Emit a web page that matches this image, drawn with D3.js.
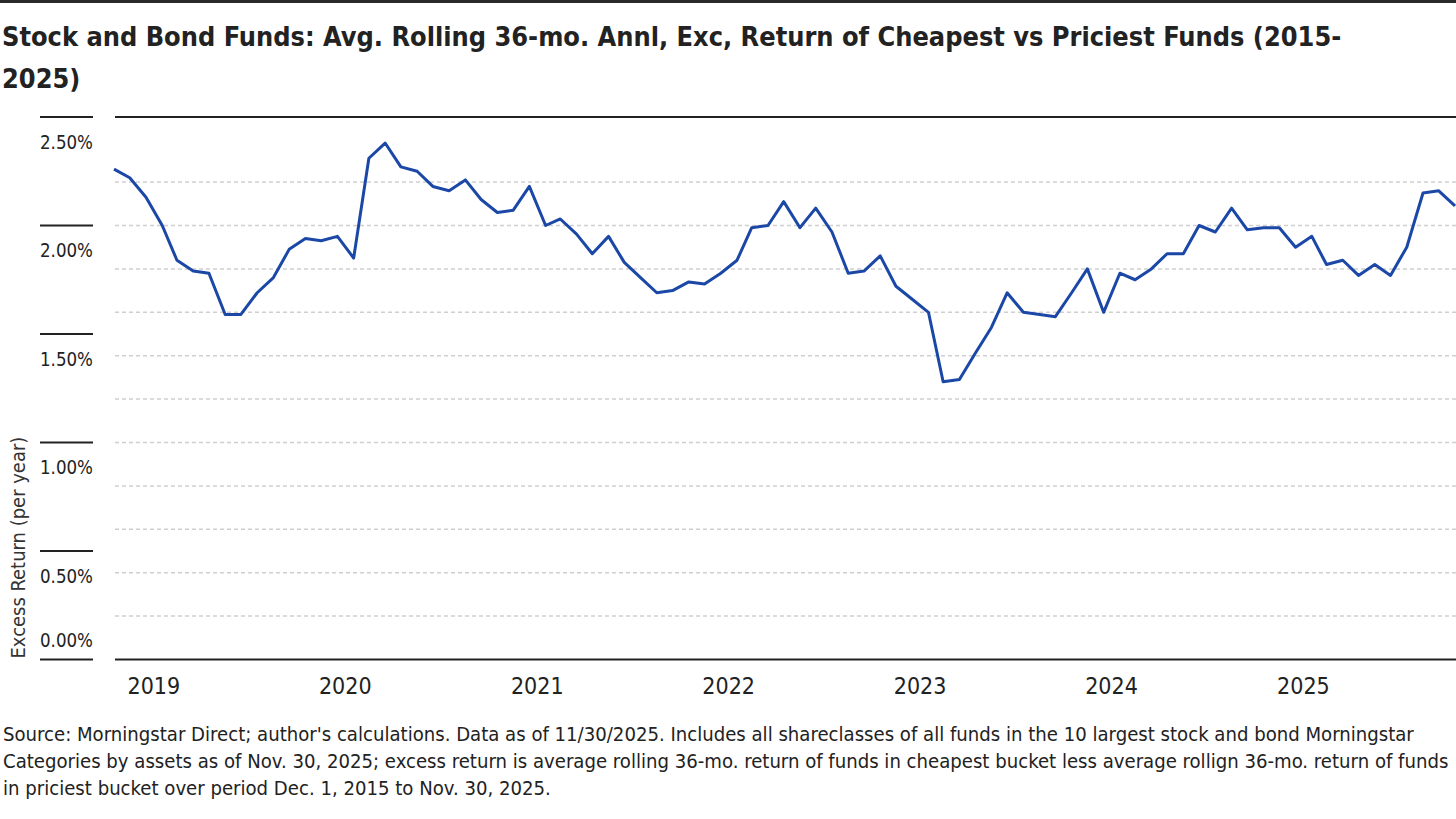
<!DOCTYPE html>
<html>
<head>
<meta charset="utf-8">
<script src="https://cdn.jsdelivr.net/npm/d3@7"></script>
<style>
  html, body { margin: 0; padding: 0; background: #fff; }
  svg { display: block; }
</style>
</head>
<body>
<div id="chart"></div>
<script>
// first rolling 36-mo. window ends Nov 2018, last ends Nov 2025
const firstMonth = '2018-11';
const lastMonth = '2025-11';

// avg. rolling 36-mo. annualised excess return (%), cheapest minus priciest, one value per month
const excessReturn = [
  2.26, 2.22,                                                             // 2018 Nov-Dec
  2.13, 2.00, 1.84, 1.79, 1.78, 1.59, 1.59, 1.69, 1.76, 1.89, 1.94, 1.93, // 2019
  1.95, 1.85, 2.31, 2.38, 2.27, 2.25, 2.18, 2.16, 2.21, 2.12, 2.06, 2.07, // 2020
  2.18, 2.00, 2.03, 1.96, 1.87, 1.95, 1.83, 1.76, 1.69, 1.70, 1.74, 1.73, // 2021
  1.78, 1.84, 1.99, 2.00, 2.11, 1.99, 2.08, 1.97, 1.78, 1.79, 1.86, 1.72, // 2022
  1.66, 1.60, 1.28, 1.29, 1.41, 1.53, 1.69, 1.60, 1.59, 1.58, 1.69, 1.80, // 2023
  1.60, 1.78, 1.75, 1.80, 1.87, 1.87, 2.00, 1.97, 2.08, 1.98, 1.99, 1.99, // 2024
  1.90, 1.95, 1.82, 1.84, 1.77, 1.82, 1.77, 1.90, 2.15, 2.16, 2.09        // 2025 Jan-Nov
];

const yearLabels = ['2019', '2020', '2021', '2022', '2023', '2024', '2025'];
const yTickValues = [0, 0.5, 1.0, 1.5, 2.0, 2.5];
const yGridValues = [0.2, 0.4, 0.6, 0.8, 1.0, 1.2, 1.4, 1.6, 1.8, 2.0, 2.2];

const titleLines = [
  'Stock and Bond Funds: Avg. Rolling 36-mo. Annl, Exc, Return of Cheapest vs Priciest Funds (2015-',
  '2025)'
];
const yAxisTitle = 'Excess Return (per year)';
const sourceLines = [
  "Source: Morningstar Direct; author's calculations. Data as of 11/30/2025. Includes all shareclasses of all funds in the 10 largest stock and bond Morningstar",
  'Categories by assets as of Nov. 30, 2025; excess return is average rolling 36-mo. return of funds in cheapest bucket less average rollign 36-mo. return of funds',
  'in priciest bucket over period Dec. 1, 2015 to Nov. 30, 2025.'
];

const width = 1456;
const height = 819;
const narrow = '"Liberation Sans Narrow", "Arial Narrow", "DejaVu Sans Condensed", sans-serif';
const ink = '#222';
const lineBlue = '#1b48a6';

const parseMonth = d3.timeParse('%Y-%m');
const months = d3.timeMonth.range(parseMonth(firstMonth), d3.timeMonth.offset(parseMonth(lastMonth), 1));
const data = months.map((m, i) => ({ date: m, value: excessReturn[i] }));

const svg = d3.select('#chart')
  .append('svg')
  .attr('width', width)
  .attr('height', height);

const x = d3.scaleTime()
  .domain([months[0], months[months.length - 1]])
  .range([114, 1455]);

const y = d3.scaleLinear()
  .domain([0, 2.5])
  .range([659.5, 117]);

const plotLeft = 115;
const plotRight = width;

// font size that makes a text element come out at a given width
function sizeFor(sel, target) {
  const fs = +sel.attr('font-size');
  return fs * target / sel.node().getComputedTextLength();
}

// top rule
svg.append('rect')
  .attr('x', 0).attr('y', 0)
  .attr('width', width).attr('height', 3)
  .attr('fill', '#2a2a2a');

// title
const title = svg.append('g')
  .attr('font-family', narrow)
  .attr('font-weight', 'bold')
  .attr('fill', ink);

const t = titleLines.map((s, i) =>
  title.append('text').attr('x', 2).attr('y', 45.5 + i * 42).attr('font-size', 34).text(s));
const titleSize = sizeFor(t[0], 1340);
t.forEach(el => el.attr('font-size', titleSize));

// dashed gridlines
svg.append('g')
  .selectAll('line')
  .data(yGridValues)
  .join('line')
  .attr('x1', plotLeft)
  .attr('x2', plotRight)
  .attr('y1', d => y(d))
  .attr('y2', d => y(d))
  .attr('stroke', '#cfcfcf')
  .attr('stroke-width', 1.5)
  .attr('stroke-dasharray', '4,3');

// top and bottom frame lines of the plot
svg.append('g')
  .selectAll('line')
  .data(y.domain())
  .join('line')
  .attr('x1', plotLeft)
  .attr('x2', plotRight)
  .attr('y1', d => y(d))
  .attr('y2', d => y(d))
  .attr('stroke', ink)
  .attr('stroke-width', 2);

// y ticks: short rule with label below it (label above for zero)
const yTicks = svg.append('g')
  .attr('fill', ink);

yTicks.selectAll('line')
  .data(yTickValues)
  .join('line')
  .attr('x1', 40)
  .attr('x2', 93)
  .attr('y1', d => y(d))
  .attr('y2', d => y(d))
  .attr('stroke', ink)
  .attr('stroke-width', 2);

yTicks.selectAll('text')
  .data(yTickValues)
  .join('text')
  .attr('x', 40)
  .attr('y', d => d === 0 ? y(d) - 13 : y(d) + 31.5)
  .attr('font-family', narrow)
  .attr('font-size', 24)
  .text(d => d3.format('.2f')(d) + '%')
  .each(function () {
    const el = d3.select(this);
    el.attr('font-size', Math.min(24, sizeFor(el, 53)));
  });

// y axis title
const yTitle = svg.append('text')
  .attr('transform', `translate(25,${y(0) - 1}) rotate(-90)`)
  .attr('font-family', narrow)
  .attr('font-size', 22)
  .attr('fill', '#333')
  .text(yAxisTitle);
yTitle.attr('font-size', sizeFor(yTitle, 222));

// x year labels, centred a little after each January
svg.append('g')
  .attr('font-family', narrow)
  .attr('font-size', 23)
  .attr('fill', ink)
  .attr('text-anchor', 'middle')
  .selectAll('text')
  .data(yearLabels)
  .join('text')
  .attr('x', d => x(new Date(+d, 0, 16)))
  .attr('y', 694)
  .text(d => d);

// the series
const line = d3.line()
  .x(d => x(d.date))
  .y(d => y(d.value));

svg.append('path')
  .datum(data)
  .attr('fill', 'none')
  .attr('stroke', lineBlue)
  .attr('stroke-width', 3)
  .attr('stroke-linejoin', 'round')
  .attr('d', line);

// source note
const src = svg.append('g')
  .attr('font-family', narrow)
  .attr('fill', ink);

const s = sourceLines.map((txt, i) =>
  src.append('text').attr('x', 3).attr('y', 741 + i * 27).attr('font-size', 22).text(txt));
const srcSize = Math.min(sizeFor(s[0], 1437), sizeFor(s[1], 1446));
s.forEach(el => el.attr('font-size', srcSize));
</script>
</body>
</html>
